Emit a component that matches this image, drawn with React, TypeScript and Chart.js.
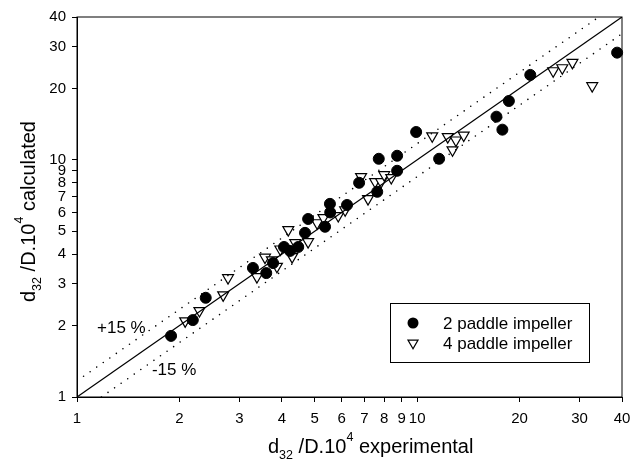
import React, { useEffect, useRef } from "react";
import { Chart, registerables } from "chart.js";

Chart.register(...registerables);

const FONT = "'Liberation Sans', Arial, Helvetica, sans-serif";

// 2 paddle impeller (filled circles)
const twoPaddleX = [1.89, 2.19, 2.39, 3.29, 3.6, 3.77, 4.06, 4.23, 4.47, 4.68, 4.78, 5.36, 5.54, 5.55, 6.22, 6.75, 7.63, 7.71, 8.73, 8.73, 9.93, 11.6, 17.1, 17.8, 18.6, 21.5, 38.7];
const twoPaddleY = [1.81, 2.11, 2.62, 3.5, 3.33, 3.67, 4.29, 4.13, 4.29, 4.92, 5.63, 5.22, 6.52, 6.0, 6.45, 8.0, 7.33, 10.1, 10.4, 8.99, 13.1, 10.1, 15.2, 13.4, 17.7, 22.8, 28.3];

// 4 paddle impeller (open down-triangles)
const fourPaddleX = [2.08, 2.29, 2.69, 2.78, 3.38, 3.57, 3.74, 3.87, 3.96, 4.18, 4.29, 4.38, 4.78, 5.08, 5.3, 5.86, 6.14, 6.84, 7.17, 7.52, 7.83, 8.0, 8.39, 11.07, 12.3, 12.7, 13.0, 13.7, 25.1, 26.7, 28.6, 32.7];
const fourPaddleY = [2.09, 2.31, 2.69, 3.18, 3.21, 3.88, 3.78, 3.55, 4.2, 5.07, 3.9, 4.47, 4.51, 5.42, 5.7, 5.81, 6.15, 8.48, 6.85, 8.08, 8.08, 8.64, 8.4, 12.6, 12.5, 11.0, 12.1, 12.7, 23.7, 24.4, 25.7, 20.5];

// Reference lines (end points)
const parityX = [1, 40];
const parityY = [1, 40];
const plusX = [1, 34.2];
const plusY = [1.17, 40];
const minusX = [1.18, 40];
const minusY = [1, 34];

const tickValues = [1, 2, 3, 4, 5, 6, 7, 8, 9, 10, 20, 30, 40];
const legendLabels = ["2 paddle impeller", "4 paddle impeller"];
const bandLabels = ["+15 %", "-15 %"];

const zip = (xs: number[], ys: number[]) => xs.map((x, i) => ({ x, y: ys[i] }));

type Part = { text: string; size: number; dy: number };
const titleParts = (word: string): Part[] => [
  { text: "d", size: 20, dy: 0 },
  { text: "32", size: 12.5, dy: 6 },
  { text: " /D.10", size: 20, dy: 0 },
  { text: "4", size: 12.5, dy: -12 },
  { text: " " + word, size: 20, dy: 0 },
];

function drawRich(ctx: CanvasRenderingContext2D, parts: Part[], x: number, y: number) {
  let cx = x;
  for (const p of parts) {
    ctx.font = `${p.size}px ${FONT}`;
    ctx.fillText(p.text, cx, y + p.dy);
    cx += ctx.measureText(p.text).width;
  }
}

function triPath(ctx: CanvasRenderingContext2D, x: number, y: number, r: number) {
  ctx.beginPath();
  for (let i = 0; i < 3; i++) {
    const a = Math.PI + (i * 2 * Math.PI) / 3;
    const px = x + Math.sin(a) * r;
    const py = y - Math.cos(a) * r;
    if (i === 0) ctx.moveTo(px, py);
    else ctx.lineTo(px, py);
  }
  ctx.closePath();
}

const decor = {
  id: "decor",
  afterDraw(chart: any) {
    const { ctx, chartArea: a, scales } = chart;
    ctx.save();
    // frame
    ctx.strokeStyle = "#000";
    ctx.lineWidth = 1;
    ctx.strokeRect(a.left, a.top, a.right - a.left, a.bottom - a.top);

    ctx.fillStyle = "#000";
    ctx.textBaseline = "alphabetic";
    ctx.textAlign = "left";
    // x title
    drawRich(ctx, titleParts("experimental"), a.left + 191, a.bottom + 56);
    // y title
    ctx.save();
    ctx.translate(a.left - 42, a.bottom - 95);
    ctx.rotate(-Math.PI / 2);
    drawRich(ctx, titleParts("calculated"), 0, 0);
    ctx.restore();

    // band labels
    ctx.font = `17px ${FONT}`;
    ctx.textBaseline = "middle";
    ctx.fillText(bandLabels[0], scales.x.getPixelForValue(1.145), scales.y.getPixelForValue(1.955));
    ctx.fillText(bandLabels[1], scales.x.getPixelForValue(1.66), scales.y.getPixelForValue(1.3));

    // legend
    const lx = a.left + 313;
    const ly = a.top + 286;
    ctx.lineWidth = 1;
    ctx.strokeStyle = "#000";
    ctx.strokeRect(lx + 0.5, ly + 0.5, 199, 59);
    ctx.beginPath();
    ctx.arc(lx + 23, ly + 20, 5.5, 0, Math.PI * 2);
    ctx.fill();
    triPath(ctx, lx + 23, ly + 40, 5.8);
    ctx.fillStyle = "#fff";
    ctx.fill();
    ctx.lineWidth = 1.2;
    ctx.stroke();
    ctx.fillStyle = "#000";
    ctx.font = `17px ${FONT}`;
    ctx.fillText(legendLabels[0], lx + 53, ly + 21);
    ctx.fillText(legendLabels[1], lx + 53, ly + 41);
    ctx.restore();
  },
};

export default function App() {
  const ref = useRef<HTMLCanvasElement>(null);
  useEffect(() => {
    if (!ref.current) return;
    const axis = (pos: "bottom" | "left", fit: (s: any) => void) => ({
      type: "logarithmic" as const,
      position: pos,
      min: 1,
      max: 40,
      afterFit: fit,
      afterBuildTicks: (s: any) => {
        s.ticks = tickValues.map((v) => ({ value: v }));
      },
      grid: {
        display: true,
        drawOnChartArea: false,
        drawTicks: true,
        tickLength: 5,
        color: "#000",
        lineWidth: 1,
      },
      border: { display: true, color: "#000", width: 1 },
      ticks: {
        autoSkip: false,
        maxRotation: 0,
        minRotation: 0,
        padding: pos === "left" ? 6 : 8,
        color: "#000",
        font: { family: FONT, size: 15 },
        callback: (v: any) => String(v),
      },
      title: { display: false },
    });

    const chart = new Chart(ref.current, {
      type: "scatter",
      data: {
        datasets: [
          {
            label: "parity",
            data: zip(parityX, parityY),
            showLine: true,
            borderColor: "#000",
            borderWidth: 1.2,
            pointRadius: 0,
          },
          {
            label: "+15",
            data: zip(plusX, plusY),
            showLine: true,
            borderColor: "#000",
            borderWidth: 1.6,
            borderDash: [0, 8],
            borderCapStyle: "round",
            pointRadius: 0,
          },
          {
            label: "-15",
            data: zip(minusX, minusY),
            showLine: true,
            borderColor: "#000",
            borderWidth: 1.6,
            borderDash: [0, 8],
            borderCapStyle: "round",
            pointRadius: 0,
          },
          {
            label: legendLabels[0],
            data: zip(twoPaddleX, twoPaddleY),
            pointStyle: "circle",
            pointRadius: 5.5,
            backgroundColor: "#000",
            borderColor: "#000",
            borderWidth: 1,
            clip: false,
          } as any,
          {
            label: legendLabels[1],
            data: zip(fourPaddleX, fourPaddleY),
            pointStyle: "triangle",
            rotation: 180,
            pointRadius: 6.3,
            backgroundColor: "#fff",
            borderColor: "#000",
            borderWidth: 1.2,
            clip: false,
          } as any,
        ],
      },
      options: {
        responsive: false,
        animation: false,
        devicePixelRatio: 1,
        layout: { padding: { left: 0, top: 17, right: 8, bottom: 0 } },
        plugins: { legend: { display: false }, tooltip: { enabled: false } },
        scales: {
          x: axis("bottom", (s: any) => {
            s.height = 62;
            s.paddingLeft = 0;
            s.paddingRight = 0;
          }),
          y: axis("left", (s: any) => {
            s.width = 77;
            s.paddingTop = 0;
            s.paddingBottom = 0;
          }),
        },
      } as any,
      plugins: [decor],
    });
    return () => chart.destroy();
  }, []);

  return (
    <div style={{ position: "absolute", left: 0, top: 0, width: 630, height: 459, background: "#fff" }}>
      <canvas ref={ref} width={630} height={459} style={{ display: "block" }} />
    </div>
  );
}
